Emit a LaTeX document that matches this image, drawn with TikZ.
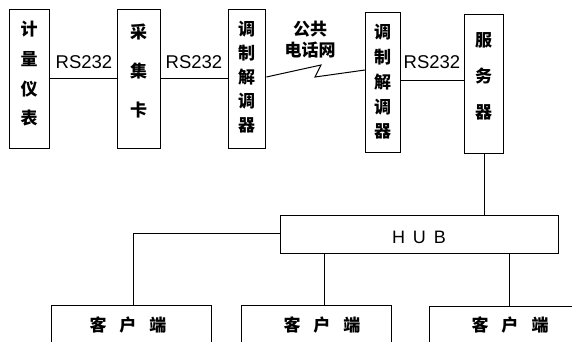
\documentclass[tikz,border=0pt]{standalone}
\usepackage{fontspec}
\setmainfont{Liberation Sans}
\newfontfamily\cjk{Noto Sans CJK SC}
\begin{document}
\begin{tikzpicture}[x=1pt,y=-1pt,
  box/.style={draw,line width=1.4pt,inner sep=0pt,anchor=north west},
  cbox/.style={draw,line width=1.1pt,inner sep=0pt,anchor=north west},
  vtext/.style={font=\cjk\bfseries\fontsize{17}{#1}\selectfont,align=center,inner sep=0pt},
  rs/.style={font=\fontsize{18.5}{18.5}\selectfont,inner sep=0pt},
  ktext/.style={font=\cjk\bfseries\fontsize{17}{17}\selectfont,inner sep=0pt},
  wire/.style={line width=1pt}]
\useasboundingbox (0,0) rectangle (572,341);
\begin{scope}
\clip (0,0) rectangle (572,341);
% upper boxes
\node[box,minimum width=40pt,minimum height=139pt] (b1) at (9,9) {};
\node[box,minimum width=43pt,minimum height=139pt] (b2) at (117,9) {};
\node[box,minimum width=37pt,minimum height=139pt] (b3) at (228,9) {};
\node[box,minimum width=35pt,minimum height=140pt] (b4) at (365,12) {};
\node[box,minimum width=39pt,minimum height=139pt] (b5) at (464,14) {};
\node[vtext=29.7] (t1) at (29,74) {计\\量\\仪\\表};
\node[vtext=39] (t2) at (138.5,71) {采\\集\\卡};
\node[vtext=24] (t3) at (246.5,77) {调\\制\\解\\调\\器};
\node[vtext=24.75] (t4) at (382.5,82) {调\\制\\解\\调\\器};
\node[vtext=36] (t5) at (483.5,76) {服\\务\\器};
% labels
\node[rs] (r1) at (84,62) {RS232};
\node[rs] (r2) at (194,62) {RS232};
\node[rs] (r3) at (432,62) {RS232};
\node[font=\cjk\bfseries\fontsize{17}{21}\selectfont,align=center,inner sep=0pt] (net) at (310,40) {公共\\电话网};
% connectors
\draw[wire] (b1.east |- 0,78) -- (b2.west |- 0,78);
\draw[wire] (b2.east |- 0,78) -- (b3.west |- 0,78);
\draw[wire] (b4.east |- 0,80) -- (b5.west |- 0,80);
\coordinate (z1) at (321,65);
\coordinate (z2) at (315,77);
\draw[wire] (b3.east |- 0,77) -- (z1) -- (z2) -- (b4.west |- 0,70);
% hub
\node[cbox,minimum width=278pt,minimum height=38pt] (hub) at (280,215) {};
\node[font=\fontsize{18}{18}\selectfont,inner sep=0pt] (hubt) at (419,237) {H\hspace{8pt}U\hspace{8pt}B};
\draw[wire] (b5.south -| 484,0) -- (hub.north -| 484,0);
% clients
\node[cbox,minimum width=160pt,minimum height=60pt] (c1) at (51,305) {};
\node[cbox,minimum width=150pt,minimum height=60pt] (c2) at (241,305) {};
\node[cbox,minimum width=160pt,minimum height=60pt] (c3) at (429,306) {};
\node[ktext] (ct1) at (128,325) {客\hspace{13pt}户\hspace{13pt}端};
\node[ktext] (ct2) at (322,325) {客\hspace{13pt}户\hspace{13pt}端};
\node[ktext] (ct3) at (510,325) {客\hspace{13pt}户\hspace{13pt}端};
\draw[wire] (hub.west |- 0,233) -| (c1.north -| 133,0);
\draw[wire] (hub.south -| 324,0) -- (c2.north -| 324,0);
\draw[wire] (hub.south -| 509,0) -- (c3.north -| 509,0);
\end{scope}
\end{tikzpicture}
\end{document}
